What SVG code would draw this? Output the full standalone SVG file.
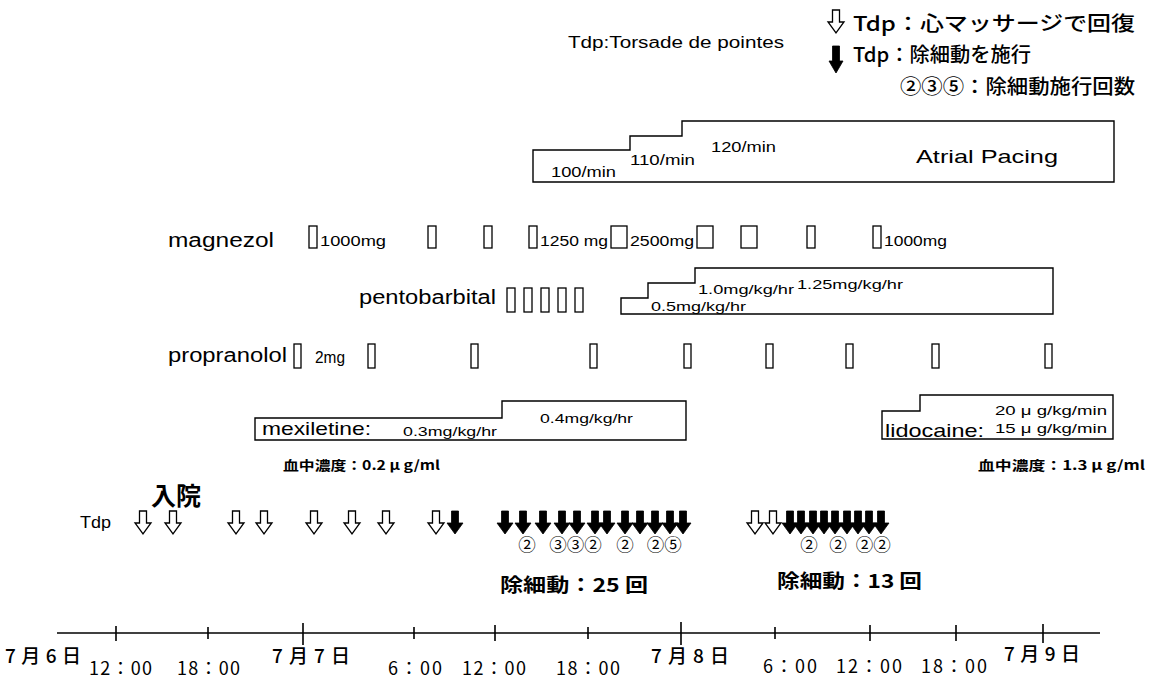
<svg xmlns="http://www.w3.org/2000/svg" width="1160" height="679" viewBox="0 0 1160 679">
<style>
.lat{font-family:"Liberation Sans",Arial,sans-serif;fill:#000}
.jp{font-family:"Noto Sans CJK JP","Noto Sans",sans-serif;fill:#000}
.b{font-weight:bold}
.m{font-weight:500}
.r{font-weight:400}
.cd{font-family:"Noto Sans CJK JP","DejaVu Sans",sans-serif;font-weight:400;fill:#000}
.box{fill:none;stroke:#000;stroke-width:1.4}
.dose{fill:#fff;stroke:#000;stroke-width:1.3}
.axis{stroke:#000;stroke-width:1.6;fill:none}
.wa{fill:#fff;stroke:#000;stroke-width:1.3}
.ba{fill:#000;stroke:#000;stroke-width:0.8}
</style>
<defs>
<path id="arw" d="M-3.5,0 H3.5 V12 H8 L0,23 L-8,12 H-3.5 Z"/>
<path id="arwL" d="M-3.5,0 H3.5 V15 H7 L0,27 L-7,15 H-3.5 Z"/>
</defs>
<rect width="1160" height="679" fill="#fff"/>

<g id="legend">
<text class="lat" x="568" y="48" font-size="16" textLength="216" lengthAdjust="spacingAndGlyphs">Tdp:Torsade de pointes</text>
<use href="#arw" class="wa" x="836" y="10"/>
<text class="jp m" x="853" y="31" font-size="20" textLength="282" lengthAdjust="spacingAndGlyphs">Tdp：心マッサージで回復</text>
<use href="#arwL" class="ba" x="836" y="46"/>
<text class="jp m" x="853" y="62" font-size="20" textLength="178" lengthAdjust="spacingAndGlyphs">Tdp：除細動を施行</text>
<text class="jp m" x="900" y="94" font-size="20" textLength="235" lengthAdjust="spacingAndGlyphs">②③⑤：除細動施行回数</text>
</g>

<g id="atrial-pacing">
<path class="box" d="M533,182 V150 H630 V136 H682 V121 H1114 V182 Z"/>
<text class="lat" x="551" y="177" font-size="14" textLength="65" lengthAdjust="spacingAndGlyphs">100/min</text>
<text class="lat" x="630" y="165" font-size="14" textLength="65" lengthAdjust="spacingAndGlyphs">110/min</text>
<text class="lat" x="711" y="152" font-size="14" textLength="65" lengthAdjust="spacingAndGlyphs">120/min</text>
<text class="lat" x="916" y="163" font-size="19" textLength="142" lengthAdjust="spacingAndGlyphs">Atrial Pacing</text>
</g>

<g id="magnezol">
<text class="lat" x="168" y="247" font-size="20" textLength="106" lengthAdjust="spacingAndGlyphs">magnezol</text>
<rect class="dose" x="309" y="226" width="8" height="22"/>
<text class="lat" x="320" y="246" font-size="14" textLength="66" lengthAdjust="spacingAndGlyphs">1000mg</text>
<rect class="dose" x="428" y="226" width="8" height="22"/>
<rect class="dose" x="484" y="226" width="8" height="22"/>
<rect class="dose" x="529" y="226" width="8" height="22"/>
<text class="lat" x="540" y="246" font-size="14" textLength="68" lengthAdjust="spacingAndGlyphs">1250 mg</text>
<rect class="dose" x="611" y="226" width="16" height="22"/>
<text class="lat" x="630" y="246" font-size="14" textLength="64" lengthAdjust="spacingAndGlyphs">2500mg</text>
<rect class="dose" x="697" y="226" width="16" height="22"/>
<rect class="dose" x="741" y="226" width="16" height="22"/>
<rect class="dose" x="807" y="226" width="8" height="22"/>
<rect class="dose" x="873" y="226" width="8" height="22"/>
<text class="lat" x="884" y="246" font-size="14" textLength="63" lengthAdjust="spacingAndGlyphs">1000mg</text>
</g>

<g id="pentobarbital">
<text class="lat" x="359" y="304" font-size="20" textLength="137" lengthAdjust="spacingAndGlyphs">pentobarbital</text>
<rect class="dose" x="507" y="288" width="8" height="24"/>
<rect class="dose" x="524" y="288" width="8" height="24"/>
<rect class="dose" x="541" y="288" width="8" height="24"/>
<rect class="dose" x="558" y="288" width="8" height="24"/>
<rect class="dose" x="575" y="288" width="8" height="24"/>
<path class="box" d="M621,314 V298 H648 V283 H695 V268 H1053 V314 Z"/>
<text class="lat" x="651" y="311" font-size="13.5" textLength="95" lengthAdjust="spacingAndGlyphs">0.5mg/kg/hr</text>
<text class="lat" x="698" y="294" font-size="13.5" textLength="96" lengthAdjust="spacingAndGlyphs">1.0mg/kg/hr</text>
<text class="lat" x="797" y="289" font-size="13.5" textLength="106" lengthAdjust="spacingAndGlyphs">1.25mg/kg/hr</text>
</g>

<g id="propranolol">
<text class="lat" x="168" y="362" font-size="20" textLength="119" lengthAdjust="spacingAndGlyphs">propranolol</text>
<rect class="dose" x="294" y="344" width="7" height="24"/>
<text class="lat" x="315" y="363" font-size="17" textLength="30" lengthAdjust="spacingAndGlyphs">2mg</text>
<rect class="dose" x="368" y="344" width="7" height="24"/>
<rect class="dose" x="471" y="344" width="7" height="24"/>
<rect class="dose" x="590" y="344" width="7" height="24"/>
<rect class="dose" x="684" y="344" width="7" height="24"/>
<rect class="dose" x="766" y="344" width="7" height="24"/>
<rect class="dose" x="846" y="344" width="7" height="24"/>
<rect class="dose" x="932" y="344" width="7" height="24"/>
<rect class="dose" x="1045" y="344" width="7" height="24"/>
</g>

<g id="mexiletine">
<path class="box" d="M255,440 V418 H502 V401 H686 V440 Z"/>
<text class="lat" x="262" y="435" font-size="19" textLength="109" lengthAdjust="spacingAndGlyphs">mexiletine:</text>
<text class="lat" x="403" y="436" font-size="13.5" textLength="94" lengthAdjust="spacingAndGlyphs">0.3mg/kg/hr</text>
<text class="lat" x="540" y="423" font-size="13.5" textLength="93" lengthAdjust="spacingAndGlyphs">0.4mg/kg/hr</text>
<text class="jp b" x="283" y="470" font-size="13" textLength="157" lengthAdjust="spacingAndGlyphs">血中濃度：0.2 μ g/ml</text>
</g>

<g id="lidocaine">
<path class="box" d="M882,439 V411 H920 V395 H1113 V439 Z"/>
<text class="lat" x="995" y="415" font-size="13.5" textLength="112" lengthAdjust="spacingAndGlyphs">20 μ g/kg/min</text>
<text class="lat" x="885" y="437" font-size="19" textLength="99" lengthAdjust="spacingAndGlyphs">lidocaine:</text>
<text class="lat" x="995" y="433" font-size="13.5" textLength="112" lengthAdjust="spacingAndGlyphs">15 μ g/kg/min</text>
<text class="jp b" x="978" y="470" font-size="13" textLength="167" lengthAdjust="spacingAndGlyphs">血中濃度：1.3 μ g/ml</text>
</g>

<g id="tdp-row">
<text class="jp b" x="151" y="505" font-size="25">入院</text>
<text class="lat" x="80" y="528" font-size="17" textLength="31" lengthAdjust="spacingAndGlyphs">Tdp</text>
<use href="#arw" class="wa" x="143" y="511"/>
<use href="#arw" class="wa" x="173" y="511"/>
<use href="#arw" class="wa" x="236" y="511"/>
<use href="#arw" class="wa" x="264" y="511"/>
<use href="#arw" class="wa" x="314" y="511"/>
<use href="#arw" class="wa" x="352" y="511"/>
<use href="#arw" class="wa" x="386" y="511"/>
<use href="#arw" class="wa" x="436" y="511"/>
<use href="#arw" class="ba" x="455" y="511"/>
</g>

<g id="defib-cluster-1">
<use href="#arw" class="ba" x="505" y="511"/>
<use href="#arw" class="ba" x="523" y="511"/>
<use href="#arw" class="ba" x="543" y="511"/>
<use href="#arw" class="ba" x="562" y="511"/>
<use href="#arw" class="ba" x="577" y="511"/>
<use href="#arw" class="ba" x="595" y="511"/>
<use href="#arw" class="ba" x="607" y="511"/>
<use href="#arw" class="ba" x="625" y="511"/>
<use href="#arw" class="ba" x="640" y="511"/>
<use href="#arw" class="ba" x="655" y="511"/>
<use href="#arw" class="ba" x="670" y="511"/>
<use href="#arw" class="ba" x="683" y="511"/>
<g class="cd" font-size="17.5" text-anchor="middle">
<text x="527" y="551">②</text>
<text x="558" y="551">③</text>
<text x="575.5" y="551">③</text>
<text x="593" y="551">②</text>
<text x="625" y="551">②</text>
<text x="655.5" y="551">②</text>
<text x="673" y="551">⑤</text>
</g>
<text class="jp b" x="500" y="592" font-size="19" textLength="148" lengthAdjust="spacingAndGlyphs">除細動：25 回</text>
</g>

<g id="defib-cluster-2">
<use href="#arw" class="wa" x="755" y="511"/>
<use href="#arw" class="wa" x="773" y="511"/>
<use href="#arw" class="ba" x="790" y="511"/>
<use href="#arw" class="ba" x="801" y="511"/>
<use href="#arw" class="ba" x="813" y="511"/>
<use href="#arw" class="ba" x="824" y="511"/>
<use href="#arw" class="ba" x="835" y="511"/>
<use href="#arw" class="ba" x="847" y="511"/>
<use href="#arw" class="ba" x="858" y="511"/>
<use href="#arw" class="ba" x="869" y="511"/>
<use href="#arw" class="ba" x="881" y="511"/>
<g class="cd" font-size="17.5" text-anchor="middle">
<text x="809" y="551">②</text>
<text x="838" y="551">②</text>
<text x="864.5" y="551">②</text>
<text x="882" y="551">②</text>
</g>
<text class="jp b" x="777" y="588" font-size="19" textLength="145" lengthAdjust="spacingAndGlyphs">除細動：13 回</text>
</g>

<g id="timeline">
<path class="axis" d="M57,633 H1100"/>
<path class="axis" d="M116,626 V641 M208,627 V639 M303,623 V645 M414,627 V639 M495,625 V641 M588,627 V639 M681,622 V645 M775,627 V639 M870,625 V641 M956,625 V641 M1043,624 V643"/>
<g class="jp m" font-size="19">
<text x="5" y="663" textLength="76" lengthAdjust="spacing">7月6日</text>
<text x="272" y="663" textLength="78" lengthAdjust="spacing">7月7日</text>
<text x="651" y="663" textLength="78" lengthAdjust="spacing">7月8日</text>
<text x="1004" y="661" textLength="76" lengthAdjust="spacing">7月9日</text>
</g>
<g class="jp r" font-size="18">
<text x="89" y="675" textLength="63" lengthAdjust="spacing">12：00</text>
<text x="177" y="675" textLength="63" lengthAdjust="spacing">18：00</text>
<text x="388" y="675" textLength="54" lengthAdjust="spacing">6：00</text>
<text x="462" y="675" textLength="64" lengthAdjust="spacing">12：00</text>
<text x="556" y="675" textLength="64" lengthAdjust="spacing">18：00</text>
<text x="763" y="673" textLength="54" lengthAdjust="spacing">6：00</text>
<text x="836" y="673" textLength="66" lengthAdjust="spacing">12：00</text>
<text x="921" y="673" textLength="66" lengthAdjust="spacing">18：00</text>
</g>
</g>
</svg>
